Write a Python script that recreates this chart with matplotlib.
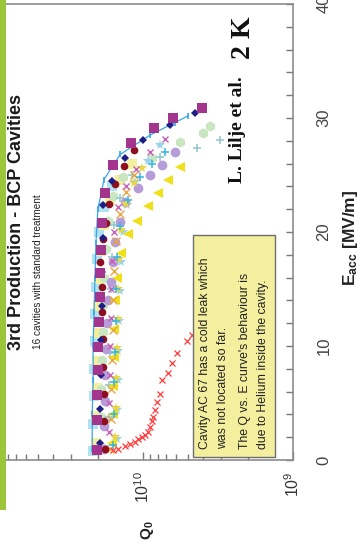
import matplotlib
matplotlib.use("Agg")
import matplotlib.pyplot as plt
from matplotlib.ticker import LogLocator, NullFormatter, FixedLocator, MultipleLocator, FixedFormatter
from matplotlib.patches import Rectangle

plt.rcParams['font.family'] = ['Liberation Sans', 'DejaVu Sans']
plt.rcParams['mathtext.fontset'] = 'custom'
plt.rcParams['mathtext.rm'] = 'Liberation Sans'
plt.rcParams['mathtext.it'] = 'Liberation Sans:italic'
plt.rcParams['mathtext.bf'] = 'Liberation Sans:bold'

# ---- Q0 vs Eacc for the 16 cavities (Eacc in MV/m) ----
e_magenta = [0.9, 3.5, 5.7, 7.9, 9.9, 12.1, 14.3, 16.4, 18.4, 20.8, 23.4, 25.9, 27.8, 29.1, 30.0, 30.9]
q_magenta = [2.03e10, 2.03e10, 2.03e10, 2.0e10, 2.0e10, 1.96e10, 1.94e10, 1.94e10, 1.91e10, 1.88e10,
             1.79e10, 1.58e10, 1.20e10, 8.45e9, 6.3e9, 4.05e9]

e_yellow_tri = [1.5, 4.0, 6.5, 9.0, 11.5, 14.0, 16.0, 18.2, 19.8, 21.0, 22.3, 23.4, 24.6, 25.7]
q_yellow_tri = [1.61e10, 1.58e10, 1.58e10, 1.56e10, 1.56e10, 1.54e10, 1.49e10, 1.40e10, 1.26e10, 1.10e10,
                9.26e9, 7.94e9, 6.81e9, 5.67e9]

e_lavender = [1.0, 3.0, 5.2, 7.5, 9.7, 12.0, 14.0, 15.6, 17.4, 19.1, 20.9, 22.6, 23.9, 25.0, 25.9, 27.0]
q_lavender = [1.82e10, 1.82e10, 1.79e10, 1.79e10, 1.77e10, 1.74e10, 1.71e10, 1.63e10, 1.58e10, 1.54e10,
              1.42e10, 1.32e10, 1.08e10, 8.98e9, 7.47e9, 6.12e9]

e_mint = [1.2, 3.8, 6.2, 8.8, 11.2, 13.6, 16.0, 18.5, 21.0, 23.2, 24.8, 26.5, 27.9, 28.7, 29.3]
q_mint = [1.94e10, 1.91e10, 1.91e10, 1.88e10, 1.85e10, 1.85e10, 1.82e10, 1.77e10, 1.71e10, 1.58e10,
          1.36e10, 8.71e9, 5.67e9, 3.98e9, 3.58e9]

e_darkred = [1.0, 3.4, 5.8, 8.2, 10.6, 13.0, 15.2, 17.4, 19.4, 20.8, 22.5, 24.2, 25.8, 27.2]
q_darkred = [1.79e10, 1.82e10, 1.82e10, 1.85e10, 1.85e10, 1.88e10, 1.88e10, 1.94e10, 1.85e10, 1.77e10,
             1.69e10, 1.54e10, 1.34e10, 1.15e10]

e_navy = [1.5, 4.5, 7.5, 10.5, 13.5, 16.5, 19.5, 22.4, 24.5, 26.5, 28.1, 29.4, 30.4]
q_navy = [1.94e10, 1.94e10, 1.91e10, 1.91e10, 1.88e10, 1.88e10, 1.85e10, 1.85e10, 1.61e10, 1.32e10,
          1.0e10, 6.6e9, 4.5e9]

e_cyan = [1.3, 4.0, 6.8, 9.5, 12.2, 15.0, 17.8, 20.5, 22.8, 24.8, 26.0, 27.0]
q_cyan = [1.58e10, 1.56e10, 1.56e10, 1.54e10, 1.51e10, 1.51e10, 1.49e10, 1.42e10, 1.26e10, 1.05e10,
          8.71e9, 7.13e9]

e_skyline = [1.0, 4.0, 7.0, 10.0, 13.0, 16.0, 19.0, 22.0, 24.6, 26.8, 28.5, 29.6, 30.2]
q_skyline = [2.18e10, 2.18e10, 2.15e10, 2.15e10, 2.12e10, 2.09e10, 2.06e10, 2.0e10, 1.82e10, 1.42e10,
             8.98e9, 6.12e9, 5.0e9]

e_icesq = [0.8, 3.2, 5.6, 8.0, 10.4, 12.8, 15.2, 17.6, 20.0, 22.2, 24.0]
q_icesq = [2.15e10, 2.15e10, 2.12e10, 2.12e10, 2.09e10, 2.09e10, 2.06e10, 2.03e10, 1.96e10, 1.82e10, 1.61e10]

e_palesq = [1.5, 3.9, 6.3, 8.7, 11.1, 13.5, 15.9, 18.3, 20.6, 22.8, 24.6, 26.0]
q_palesq = [2.06e10, 2.06e10, 2.03e10, 2.03e10, 2.0e10, 2.0e10, 1.96e10, 1.91e10, 1.82e10, 1.66e10,
            1.42e10, 1.18e10]

e_star = [2.0, 4.6, 7.2, 9.8, 12.4, 15.0, 17.6, 20.2, 22.5, 24.3, 25.6]
q_star = [1.54e10, 1.51e10, 1.51e10, 1.49e10, 1.47e10, 1.47e10, 1.45e10, 1.40e10, 1.29e10, 1.15e10, 1.02e10]

e_orange = [1.0, 3.6, 6.2, 8.8, 11.4, 14.0, 16.6, 19.2, 21.6, 23.5, 25.0]
q_orange = [1.66e10, 1.63e10, 1.63e10, 1.61e10, 1.58e10, 1.58e10, 1.56e10, 1.51e10, 1.42e10, 1.29e10, 1.15e10]

e_lightblue = [1.8, 4.4, 7.0, 9.6, 12.2, 14.8, 17.4, 20.0, 22.4, 24.4, 26.2, 27.6]
q_lightblue = [1.49e10, 1.49e10, 1.47e10, 1.47e10, 1.45e10, 1.42e10, 1.40e10, 1.36e10, 1.28e10, 1.13e10,
               9.26e9, 7.7e9]

e_teal = [1.0, 3.8, 6.6, 9.4, 12.2, 15.0, 17.8, 20.6, 23.0, 25.0, 26.6, 27.4, 28.1]
q_teal = [1.71e10, 1.69e10, 1.69e10, 1.66e10, 1.66e10, 1.63e10, 1.61e10, 1.56e10, 1.42e10, 1.18e10,
          7.7e9, 4.37e9, 3.07e9]

e_pink = [2.5, 5.0, 7.5, 10.0, 12.5, 15.0, 17.5, 20.0, 22.2, 24.0, 25.5, 27.0, 28.2]
q_pink = [1.69e10, 1.69e10, 1.66e10, 1.66e10, 1.63e10, 1.63e10, 1.61e10, 1.56e10, 1.47e10, 1.29e10,
          1.11e10, 8.98e9, 7.13e9]

# cavity AC 67 (cold leak)
e_ac67 = [0.9, 1.0, 1.2, 1.4, 1.6, 1.8, 2.0, 2.2, 2.5, 2.9, 3.4, 3.8, 4.4, 5.1, 5.8, 7.0, 7.6, 8.5, 9.4, 10.4, 11.0]
q_ac67 = [1.58e10, 1.47e10, 1.32e10, 1.22e10, 1.13e10, 1.08e10, 1.02e10, 9.7e9, 9.26e9, 8.98e9, 8.71e9,
          8.57e9, 8.32e9, 8.07e9, 7.70e9, 7.47e9, 6.81e9, 6.41e9, 5.93e9, 5.09e9, 4.71e9]

q_ticks = [1e9, 1e10]
q_tick_labels = [r'$\mathregular{10^{9}}$', r'$\mathregular{10^{10}}$']
e_ticks = [0, 10, 20, 30, 40]

W, H = 359, 548
fig = plt.figure(figsize=(W / 100, H / 100), dpi=100)
fig.patch.set_facecolor('white')

# axes in pixel layout: Q runs horizontally (1e11 left .. 1e9 right), Eacc vertically
x0, x1 = -7, 293
y_top, y_bot = 4, 460
ax = fig.add_axes([x0 / W, 1 - y_bot / H, (x1 - x0) / W, (y_bot - y_top) / H])
ax.set_xscale('log')
ax.set_xlim(1e11, 1e9)
ax.set_ylim(0, 40)

def pts(q, e, **kw):
    ax.plot(q, e, **kw)

pts(q_icesq, e_icesq, ls='none', marker='s', ms=6.5, color='#b0e2ef', mew=0)
pts(q_palesq, e_palesq, ls='none', marker='s', ms=6.5, color='#f3ef9c', mew=0)
pts(q_mint, e_mint, ls='none', marker='h', ms=7.5, color='#c8e6c0', mew=0)
pts(q_lightblue, e_lightblue, ls='none', marker='*', ms=7.5, color='#98d4ee', mew=0)
pts(q_teal, e_teal, ls='none', marker='+', ms=6, color='#8fc8cc', mew=1.1)
pts(q_lavender, e_lavender, ls='none', marker='o', ms=7, color='#b69cd8', mew=0)
pts(q_yellow_tri, e_yellow_tri, ls='none', marker='<', ms=7.5, color='#f0e018', mew=0)
pts(q_star, e_star, ls='none', marker='*', ms=7.5, color='#e9d646', mew=0)
pts(q_orange, e_orange, ls='none', marker='x', ms=5.5, color='#eaa640', mew=1.0)
pts(q_pink, e_pink, ls='none', marker='x', ms=4.5, color='#c860b8', mew=1.0)
pts(q_cyan, e_cyan, ls='none', marker='+', ms=6, color='#38b6de', mew=1.1)
pts(q_skyline, e_skyline, ls='-', lw=0.9, marker='|', ms=5, color='#3aa6e6', mew=1.2)
pts(q_darkred, e_darkred, ls='none', marker='o', ms=5.5, color='#8e1020', mew=0)
pts(q_navy, e_navy, ls='none', marker='D', ms=3.8, color='#1e1e86', mew=0)
pts(q_magenta, e_magenta, ls='none', marker='s', ms=6.5, color='#a4358f', mew=0)
pts(q_ac67, e_ac67, ls='none', marker='x', ms=5, color='#ff3b3b', mew=0.9)

# frame and ticks
for s in ax.spines.values():
    s.set_color('#8c8c8c')
    s.set_linewidth(1.2)

ax.xaxis.set_major_locator(FixedLocator(q_ticks))
ax.xaxis.set_major_formatter(FixedFormatter(q_tick_labels))
ax.xaxis.set_minor_locator(LogLocator(base=10, subs=[2, 3, 4, 5, 6, 7, 8, 9]))
ax.xaxis.set_minor_formatter(NullFormatter())
ax.tick_params(axis='x', which='both', direction='in', bottom=True, top=False, colors='#777777',
               labelcolor='#333333', labelsize=11.5, pad=8, labelrotation=90)
ax.tick_params(axis='x', which='major', length=6, width=1)
ax.tick_params(axis='x', which='minor', length=4, width=1)

ax.yaxis.tick_right()
ax.yaxis.set_major_locator(FixedLocator(e_ticks))
ax.yaxis.set_minor_locator(MultipleLocator(2))
ax.tick_params(axis='y', which='both', direction='in', right=True, left=False, colors='#777777',
               labelcolor='#444444', labelsize=12, pad=17, length=5, width=1)
for t in ax.get_yticklabels():
    t.set_rotation(90)
    t.set_va('center')
    t.set_ha('left')

# axis titles
fig.text(350 / W, 1 - 238 / H, r'E$_{\mathregular{acc}}$ [MV/m]', rotation=90, ha='center', va='center',
         fontsize=12.5, fontweight='bold', color='#222222')
fig.text(147 / W, 1 - 530 / H, r'Q$_{\mathregular{0}}$', rotation=90, ha='center', va='center',
         fontsize=11, fontweight='bold', color='#222222')

# side bar
fig.patches.append(Rectangle((0, 1 - 510 / H), 6 / W, 510 / H, transform=fig.transFigure,
                             facecolor='#9cc53c', edgecolor='none'))

# titles
fig.text(17 / W, 1 - 350 / H, '3rd Production - BCP Cavities', rotation=90, ha='center', va='bottom',
         fontsize=13, fontweight='bold', color='#1a1a1a')
fig.text(38 / W, 1 - 349 / H, '16 cavities with standard treatment', rotation=90, ha='center', va='bottom',
         fontsize=7.2, color='#222222')

fig.text(237 / W, 1 - 130 / H, 'L. Lilje et al.', rotation=90, ha='center', va='center',
         fontsize=14, fontweight='bold', family='Liberation Serif', color='#111111')
fig.text(243 / W, 1 - 38 / H, '2 K', rotation=90, ha='center', va='center',
         fontsize=20, fontweight='bold', family='Liberation Serif', color='#111111')

# note box
fig.patches.append(Rectangle((193 / W, 1 - 457 / H), (275 - 193) / W, (457 - 235) / H,
                             transform=fig.transFigure, facecolor='#f4ef9e', edgecolor='#6e6e6e', lw=1))
note_lines = ['Cavity AC 67 has a cold leak which', 'was not located so far.',
              "The Q vs. E curve's behaviour is", 'due to Helium inside the cavity.']
for xc, line in zip([205, 223, 245, 263], note_lines):
    fig.text(xc / W, 1 - 449 / H, line, rotation=90, ha='center', va='bottom', fontsize=8.8,
             color='#222222')

fig.savefig('out.png', dpi=100, facecolor='white')
